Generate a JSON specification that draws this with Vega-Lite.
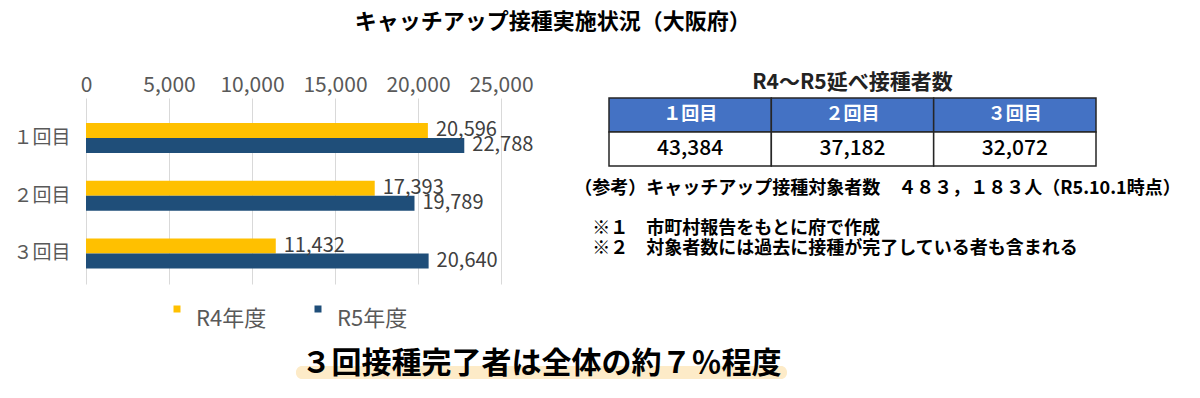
{
  "$schema": "https://vega.github.io/schema/vega-lite/v6.json",
  "padding": {"left": 12, "top": 11, "right": 5, "bottom": 5},
  "background": "white",
  "config": {
    "font": "Noto Sans CJK JP",
    "view": {"stroke": null}
  },
  "title": {
    "text": "キャッチアップ接種実施状況（大阪府）",
    "fontSize": 22,
    "fontWeight": "bold",
    "color": "#000000",
    "anchor": "middle",
    "offset": 38,
    "dx": -44
  },
  "spacing": 64,
  "vconcat": [
    {
      "hconcat": [
        {
          "width": 415,
          "height": 186,
          "data": {
            "values": [
              {"dose": "１回目", "year": "R4年度", "count": 20596},
              {"dose": "１回目", "year": "R5年度", "count": 22788},
              {"dose": "２回目", "year": "R4年度", "count": 17393},
              {"dose": "２回目", "year": "R5年度", "count": 19789},
              {"dose": "３回目", "year": "R4年度", "count": 11432},
              {"dose": "３回目", "year": "R5年度", "count": 20640}
            ]
          },
          "encoding": {
            "y": {
              "field": "dose",
              "type": "nominal",
              "sort": ["１回目", "２回目", "３回目"],
              "scale": {"paddingInner": 0.4805, "paddingOuter": 0.3507, "align": 0.617},
              "axis": {
                "title": null,
                "domain": false,
                "ticks": false,
                "grid": false,
                "labelFontSize": 19,
                "labelColor": "#595959",
                "labelPadding": 16
              }
            },
            "yOffset": {
              "field": "year",
              "type": "nominal",
              "sort": ["R4年度", "R5年度"],
              "scale": {"paddingInner": 0, "paddingOuter": 0}
            },
            "x": {
              "field": "count",
              "type": "quantitative",
              "scale": {"domain": [0, 25000], "nice": false},
              "axis": {
                "orient": "top",
                "title": null,
                "values": [0, 5000, 10000, 15000, 20000, 25000],
                "format": ",.0f",
                "domain": false,
                "ticks": false,
                "labelFlush": false,
                "labelFontSize": 21,
                "labelColor": "#595959",
                "labelPadding": 3,
                "grid": true,
                "gridColor": "#d9d9d9",
                "gridWidth": 1
              }
            }
          },
          "layer": [
            {
              "mark": {"type": "bar"},
              "encoding": {
                "color": {
                  "field": "year",
                  "type": "nominal",
                  "sort": ["R4年度", "R5年度"],
                  "scale": {"domain": ["R4年度", "R5年度"], "range": ["#FFC000", "#1F4E79"]},
                  "legend": {
                    "title": null,
                    "orient": "none",
                    "direction": "horizontal",
                    "legendX": 80,
                    "legendY": 200,
                    "padding": 0,
                    "symbolType": "square",
                    "symbolSize": 49,
                    "symbolStrokeWidth": 0,
                    "labelFontSize": 22,
                    "labelColor": "#595959",
                    "labelOffset": 8,
                    "labelBaseline": "top",
                    "columnPadding": 40
                  }
                }
              }
            },
            {
              "mark": {"type": "text", "align": "left", "baseline": "middle", "dx": 8, "fontSize": 20, "color": "#404040"},
              "encoding": {
                "text": {"field": "count", "type": "quantitative", "format": ",.0f"}
              }
            }
          ]
        },
        {
          "width": 487,
          "height": 68,
          "title": {
            "text": [
              "（参考）キャッチアップ接種対象者数　４８３，１８３人（R5.10.1時点）",
              "\u200b\u3000",
              "\u200b\u3000※１　市町村報告をもとに府で作成",
              "\u200b\u3000※２　対象者数には過去に接種が完了している者も含まれる"
            ],
            "orient": "bottom",
            "anchor": "start",
            "dx": -34,
            "offset": 13,
            "fontSize": 18,
            "fontWeight": "bold",
            "color": "#000000",
            "lineHeight": 20
          },
          "data": {
            "values": [
              {"dose": "１回目", "total": 43384},
              {"dose": "２回目", "total": 37182},
              {"dose": "３回目", "total": 32072}
            ]
          },
          "layer": [
            {
              "mark": {"type": "rect", "fill": "#4472C4", "stroke": "#262626", "strokeWidth": 1.5},
              "encoding": {
                "x": {
                  "field": "dose",
                  "type": "nominal",
                  "sort": ["１回目", "２回目", "３回目"],
                  "scale": {"paddingInner": 0, "paddingOuter": 0},
                  "axis": null
                },
                "y": {
                  "datum": "header",
                  "type": "nominal",
                  "scale": {"domain": ["header", "value"], "paddingInner": 0, "paddingOuter": 0},
                  "axis": null
                }
              }
            },
            {
              "mark": {"type": "rect", "fill": "#ffffff", "stroke": "#262626", "strokeWidth": 1.5},
              "encoding": {
                "x": {"field": "dose", "type": "nominal", "sort": ["１回目", "２回目", "３回目"]},
                "y": {"datum": "value", "type": "nominal"}
              }
            },
            {
              "mark": {"type": "text", "fontSize": 18, "fontWeight": "bold", "color": "#ffffff", "baseline": "middle"},
              "encoding": {
                "x": {"field": "dose", "type": "nominal", "sort": ["１回目", "２回目", "３回目"]},
                "y": {"datum": "header", "type": "nominal"},
                "text": {"field": "dose", "type": "nominal"}
              }
            },
            {
              "mark": {"type": "text", "fontSize": 21, "fontWeight": 500, "color": "#000000", "baseline": "middle"},
              "encoding": {
                "x": {"field": "dose", "type": "nominal", "sort": ["１回目", "２回目", "３回目"]},
                "y": {"datum": "value", "type": "nominal"},
                "text": {"field": "total", "type": "quantitative", "format": ",.0f"}
              }
            },
            {
              "data": {"values": [{"heading": "R4～R5延べ接種者数"}]},
              "mark": {"type": "text", "fontSize": 21, "fontWeight": "bold", "color": "#222222", "baseline": "middle", "dy": -32},
              "encoding": {
                "y": {"datum": "header", "type": "nominal"},
                "text": {"field": "heading", "type": "nominal"}
              }
            }
          ]
        }
      ],
      "bounds": "flush",
      "spacing": 108
    },
    {
      "width": 701,
      "height": 13,
      "data": {"values": [{"msg": "３回接種完了者は全体の約７％程度"}]},
      "encoding": {
        "x": {
          "field": "msg",
          "type": "nominal",
          "scale": {"paddingInner": 0, "paddingOuter": 0.2138, "align": 1},
          "axis": null
        }
      },
      "layer": [
        {
          "mark": {"type": "rect", "fill": "#FDEBC8", "cornerRadius": 6}
        },
        {
          "mark": {"type": "text", "fontSize": 30, "fontWeight": "bold", "color": "#000000", "baseline": "middle", "dy": -9},
          "encoding": {"text": {"field": "msg", "type": "nominal"}}
        }
      ]
    }
  ]
}
